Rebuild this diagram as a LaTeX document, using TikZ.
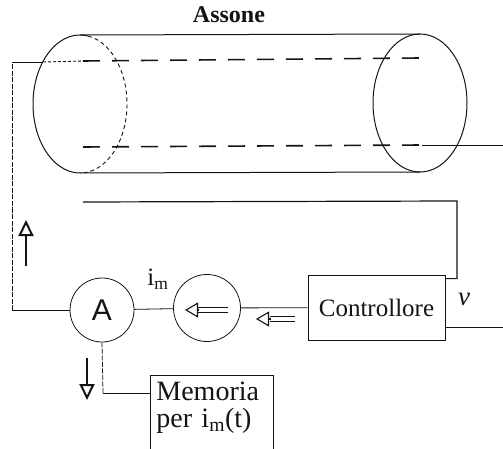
\documentclass[tikz,border=0pt]{standalone}
\usepackage{fontspec}
\setmainfont{Liberation Serif}
\newfontfamily\ampfont{Liberation Sans}
\usetikzlibrary{arrows.meta}
\usetikzlibrary{positioning,calc}
\definecolor{inkblack}{RGB}{20,20,20}

\begin{document}
\begin{tikzpicture}[x=1pt,y=-1pt,inkblack,line width=0.8pt,
    meter/.style={draw,circle,minimum size=64pt,inner sep=0pt},
    blockbox/.style={draw,rectangle,minimum width=137pt,minimum height=65pt,
      font=\fontsize{25}{28}\selectfont},
    membox/.style={draw,rectangle,anchor=north west,align=left,inner xsep=6pt,
      inner ysep=7pt,text width=111pt,text depth=70pt,
      font=\fontsize{28}{27}\selectfont},
    wire/.style={line width=0.8pt},
    hidden/.style={line width=1.6pt,dash pattern=on 17pt off 12pt},
    scanwire/.style={line width=0.8pt,dash pattern=on 5pt off 1.5pt},
    hollowtip/.style={line width=2pt,-{Triangle[open,length=16pt,width=15pt]}},
    shaft/.style={double=white,double distance=3.5pt,line width=1.1pt},
    shafthead/.style={line width=1.1pt,-{Triangle[open,length=13pt,width=15pt]}}]
    \useasboundingbox (0,0) rectangle (503,449);
    \clip (0,0) rectangle (503,449);
    \fill[white] (0,0) rectangle (503,449);

    % the axon as a cylinder
    \coordinate (lc) at (80,104);
    \coordinate (rc) at (420,103);
    \node[font=\fontsize{24}{26}\selectfont\bfseries] (title) at (229,15) {Assone};
    \draw[line width=1pt] (lc) ++(80:47pt and 69pt)
      arc[start angle=80,end angle=270,x radius=47pt,y radius=69pt];
    \draw[line width=0.9pt,dash pattern=on 4pt off 3pt] (lc) ++(80:47pt and 69pt)
      arc[start angle=80,end angle=-90,x radius=47pt,y radius=69pt];
    \draw[line width=1pt] (rc) ellipse[x radius=47pt,y radius=69pt];
    \draw[line width=1pt] (80,35) -- (420,34);
    \draw[line width=1pt] (80,173) -- (420,172);

    % electrodes inside
    \coordinate (inL) at (43,62);
    \coordinate (inR) at (420,58);
    \coordinate (outL) at (83,147);
    \coordinate (outR) at (422,145);
    \coordinate (outEnd) at (503,145);
    \draw[line width=0.9pt,dash pattern=on 3pt off 2pt] (inL) -- (83,61);
    \draw[hidden] (83,61) -- (inR);
    \draw[hidden] (outL) -- (outR);
    \draw[wire] (outR) -- (outEnd);

    % ammeter, source and controller
    \node[meter,font=\ampfont\fontsize{30}{30}\selectfont] (amp) at (102,310) {A};
    \node[meter,minimum size=67pt] (src) at (207,308) {};
    \node[blockbox] (ctrl) at (376.5,307.5) {Controllore};
    \node[membox] (mem) at (150,375) {Memoria\\per i\textsubscript{m}(t)};
    \node[font=\fontsize{25}{26}\selectfont] (im) at (158,279) {i\textsubscript{m}};
    \node[font=\fontsize{27}{28}\selectfont\itshape] (vlab) at (464,299) {v};

    % wiring
    \coordinate (cornerL) at (12,310);
    \coordinate (topL) at (12,62);
    \coordinate (barL) at (83,202);
    \coordinate (barR) at (457,201);
    \coordinate (memC) at (103,393);
    \draw[wire] (amp) -- (src);
    \draw[wire] (src) -- (ctrl);
    \draw[wire] (amp.west) -- (cornerL);
    \draw[scanwire] (cornerL) -- (topL);
    \draw[wire] (topL) -- (inL);
    \draw[line width=1.2pt] (barL) -- (barR) |- ([yshift=-4pt]ctrl.north east);
    \draw[wire] ([yshift=13pt]ctrl.south east) -- ++(60,0);
    \draw[scanwire] (amp.south) -- (memC);
    \draw[wire] (memC) -- (mem.west |- memC);

    % current direction arrows
    \draw[shaft] (228,310) -- (198,310);
    \draw[shafthead] (199,310) -- (185,310);
    \draw[shaft] (295,319) -- (270,319);
    \draw[shafthead] (271,319) -- (256,319);
    \draw[hollowtip] (26,266) -- (26,220);
    \draw[hollowtip] (87,358) -- (87,400);
  \end{tikzpicture}
\end{document}
